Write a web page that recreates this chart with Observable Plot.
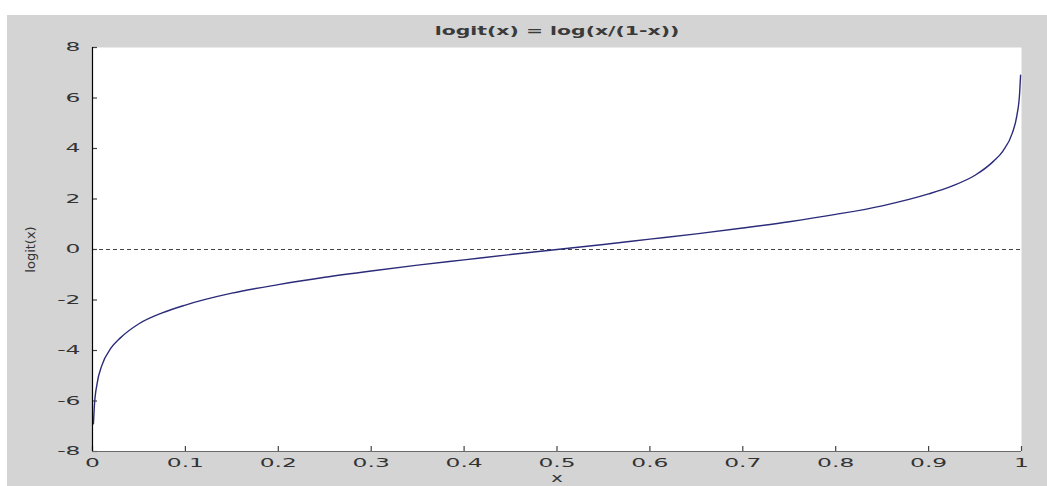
<!DOCTYPE html>
<html>
<head>
<meta charset="utf-8">
<script src="https://cdn.jsdelivr.net/npm/d3@7"></script>
<script src="https://cdn.jsdelivr.net/npm/@observablehq/plot@0.6"></script>
<style>
  html, body { margin: 0; padding: 0; background: #ffffff; overflow: hidden; width: 1047px; height: 486px; }
  #chart { position: absolute; left: 7px; top: 15px; }
  #chart svg { display: block; background: #d4d4d4; }
</style>
</head>
<body>
<div id="chart"></div>
<script>
// ---- data ----
const titleText = "logit(x) = log(x/(1-x))";
const xLabel = "x";
const yLabel = "logit(x)";

const xValues = [0.001, 0.002, 0.005, 0.01, 0.02, 0.03, 0.05, 0.075, 0.1, 0.15, 0.2, 0.25, 0.3, 0.35, 0.4, 0.45, 0.5,
                 0.55, 0.6, 0.65, 0.7, 0.75, 0.8, 0.85, 0.9, 0.925, 0.95, 0.97, 0.98, 0.99, 0.995, 0.998, 0.999];
const yValues = [-6.9, -6.2, -5.3, -4.6, -3.9, -3.5, -2.94, -2.51, -2.2, -1.73, -1.39, -1.1, -0.85, -0.62, -0.41, -0.2, 0,
                 0.2, 0.41, 0.62, 0.85, 1.1, 1.39, 1.73, 2.2, 2.51, 2.94, 3.5, 3.9, 4.6, 5.3, 6.2, 6.9];

const xTicks = [0, 0.1, 0.2, 0.3, 0.4, 0.5, 0.6, 0.7, 0.8, 0.9, 1];
const xTickLabels = ["0", "0.1", "0.2", "0.3", "0.4", "0.5", "0.6", "0.7", "0.8", "0.9", "1"];
const yTicks = [-8, -6, -4, -2, 0, 2, 4, 6, 8];
const yTickLabels = ["-8", "-6", "-4", "-2", "0", "2", "4", "6", "8"];
const refLine = [0];

const curve = xValues.map((x, i) => ({x, y: yValues[i]}));

const W = 1040, H = 471, ML = 85, MR = 26, MT = 32, MB = 35, TICK = 5;
const innerW = W - ML - MR, innerH = H - MT - MB;

const chart = Plot.plot({
  width: W,
  height: H,
  marginLeft: ML,
  marginRight: MR,
  marginTop: MT,
  marginBottom: MB,
  style: {fontFamily: "DejaVu Sans", fontSize: "12px", color: "#333333", background: "#d4d4d4"},
  x: {domain: [0, 1], axis: null},
  y: {domain: [-8, 8], axis: null},
  marks: [
    Plot.frame({fill: "white", stroke: null}),
    Plot.ruleY(refLine, {stroke: "#444444", strokeWidth: 1, strokeDasharray: "4,3"}),
    Plot.line(curve, {x: "x", y: "y", stroke: "#2b2b7a", strokeWidth: 1.4, curve: "monotone-x"}),
    // inward tick marks
    Plot.tickX(xTicks, {x: (d) => d, insetTop: innerH - TICK, stroke: "#444444", strokeWidth: 1.2}),
    Plot.tickY(yTicks, {y: (d) => d, insetRight: innerW - TICK, stroke: "#444444", strokeWidth: 1.2}),
    Plot.ruleY([-8], {stroke: "#6a6a6a", strokeWidth: 1.2}),
    Plot.ruleX([0], {stroke: "#000000", strokeWidth: 1.2}),
    Plot.axisX({ticks: xTicks, tickSize: 0, tickPadding: 7, stroke: null,
                tickFormat: (d) => xTickLabels[xTicks.indexOf(d)], label: null, fill: "#333333"}),
    Plot.axisY({ticks: yTicks, tickSize: 0, tickPadding: 12, stroke: null,
                tickFormat: (d) => yTickLabels[yTicks.indexOf(d)], label: null, fill: "#333333"}),
    Plot.text([titleText], {frameAnchor: "top", dy: -21, text: (d) => d, fontWeight: "bold",
                            fontSize: 12, fill: "#3a3a3a"}),
    Plot.text([yLabel], {frameAnchor: "left", dx: -62, rotate: -90, textAnchor: "middle", lineAnchor: "middle",
                         text: (d) => d, fontSize: 13, fill: "#333333"}),
    Plot.text([xLabel], {frameAnchor: "bottom", dy: 21, lineAnchor: "top", text: (d) => d, fontSize: 13,
                         fill: "#333333"})
  ]
});

document.getElementById("chart").appendChild(chart);

// widen horizontal text like the reference's broad font
chart.querySelectorAll("text").forEach((t) => {
  const s = t.textContent;
  let sx;
  if (s === yLabel) return;
  else if (s === titleText) sx = 1.7;
  else if (s === xLabel) sx = 1.5;
  else sx = 1.95;
  const bb = t.getBBox();
  const anchor = getComputedStyle(t).textAnchor;
  const ox = anchor === "end" ? bb.x + bb.width : anchor === "start" ? bb.x : bb.x + bb.width / 2;
  const tr = t.getAttribute("transform") || "";
  t.setAttribute("transform", `${tr} translate(${ox},0) scale(${sx},1) translate(${-ox},0)`);
});
</script>
</body>
</html>
